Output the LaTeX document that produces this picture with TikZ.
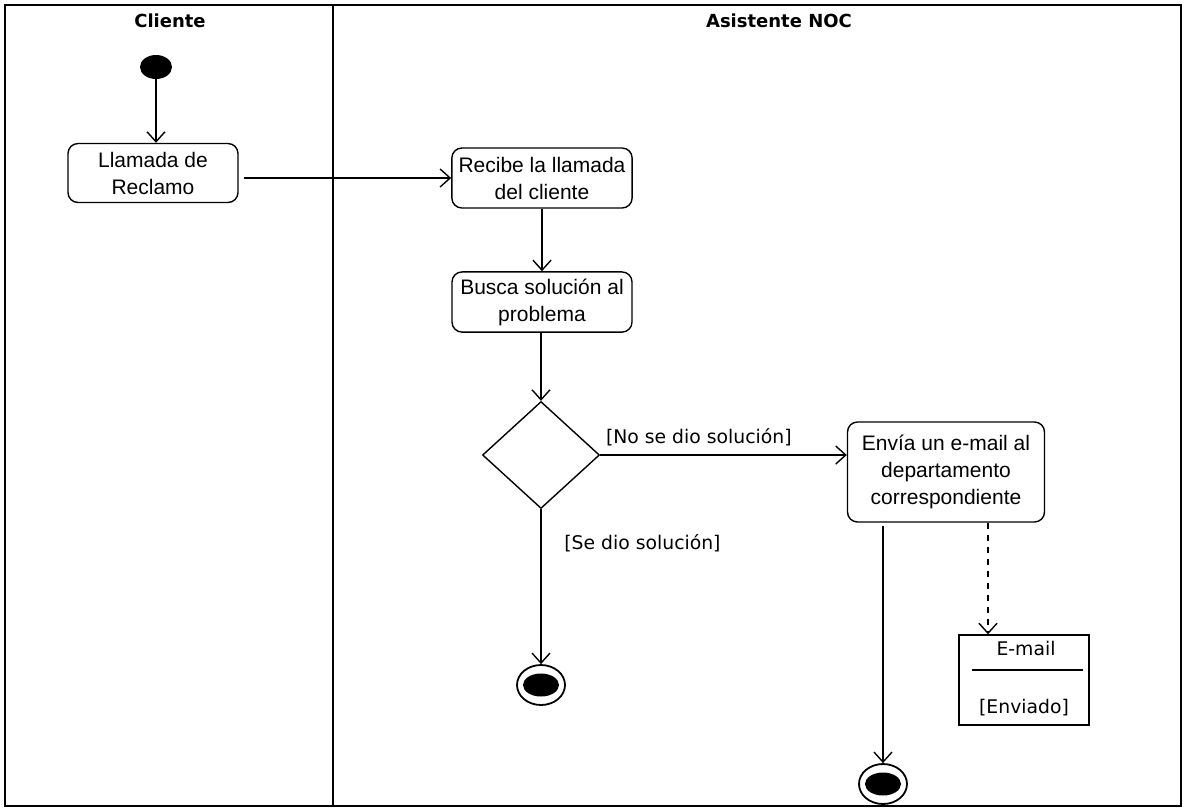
\documentclass[tikz,border=0pt]{standalone}
\usepackage{fontspec}
\setmainfont{Liberation Sans}
\newfontfamily\guardfont{DejaVu Sans}
\usetikzlibrary{
  arrows.meta,
  calc,
  positioning,
  shapes,
  shapes.geometric,
}
\tikzstyle{arrow} = [
  -{Straight Barb[length=5pt,width=9pt]},
  line width=0.7pt,
]
\tikzstyle{action} = [
  rectangle,
  rounded corners=5pt,
  draw,
  line width=0.7pt,
  align=center,
  font=\fontsize{10.5}{13.5}\selectfont,
]
\tikzstyle{guard} = [
  font=\guardfont\fontsize{9.4}{12}\selectfont,
]

\begin{document}
\begin{tikzpicture}[x=0.5pt,y=-0.5pt]

      \useasboundingbox (0,0) rectangle (1185,811);
      % swimlanes
      \draw[line width=1pt] (5,5) rectangle (1181,806);
      \draw[line width=1pt] (333,5) -- (333,806);
      \node[font=\guardfont\bfseries\fontsize{9}{11}\selectfont] (cliente) at (170,21) {Cliente};
      \node[font=\guardfont\bfseries\fontsize{9}{11}\selectfont] (noc) at (779,21) {Asistente NOC};

      \node[ellipse,fill=black,minimum width=16pt,minimum height=12pt,inner sep=0] (inicio) at (156,67) {};
      \node[action,minimum width=85pt,minimum height=29.5pt] (llamada) at (153,173) {Llamada de\\Reclamo};
      \node[action,minimum width=90pt,minimum height=30pt] (recibe) at (542,178) {Recibe la llamada\\del cliente};
      \node[action,minimum width=90pt,minimum height=30pt] (busca) at (542,302) {Busca soluci\'on al\\problema};
      \node[diamond,draw,line width=0.7pt,minimum width=58.5pt,minimum height=53.5pt,inner sep=0] (decision) at (541,455) {};
      \node[action,minimum width=98.5pt,minimum height=50pt] (envia) at (946,472) {Env\'ia un e-mail al\\departamento\\correspondiente};

      % objeto e-mail
      \node[rectangle,draw,line width=0.7pt,minimum width=65pt,minimum height=45pt] (email) at (1024,680) {};
      \node[guard] (emailnombre) at (1026,648) {E-mail};
      \node[guard] (emailestado) at (1024,708) {[Enviado]};
      \draw[line width=0.7pt] ($(email.west)+(7pt,5pt)$) -- ($(email.east)+(-3.5pt,5pt)$);

      \node[ellipse,draw,line width=0.9pt,minimum width=24pt,minimum height=20pt,inner sep=0] (fin1) at (541,685) {};
      \node[ellipse,fill=black,minimum width=18pt,minimum height=11.5pt,inner sep=0] at (fin1) {};
      \node[ellipse,draw,line width=0.9pt,minimum width=24pt,minimum height=20pt,inner sep=0] (fin2) at (883,784) {};
      \node[ellipse,fill=black,minimum width=18pt,minimum height=11.5pt,inner sep=0] at (fin2) {};

      \draw[arrow] (inicio.south) -- (inicio.south |- llamada.north);
      \draw[arrow,shorten <=2.5pt] (llamada.east |- recibe.west) -- (recibe.west);
      \draw[arrow] (recibe.south) -- (busca.north);
      \draw[arrow] (decision.north |- busca.south) -- (decision.north);
      \draw[arrow] (decision.east) -- node[guard,above,pos=0.4,yshift=1pt] {[No se dio soluci\'on]} (decision.east -| envia.west);
      \draw[arrow] (decision.south) -- node[guard,right,pos=0.22,xshift=8pt] {[Se dio soluci\'on]} (fin1.north);
      \draw[arrow,shorten <=1.5pt] (fin2 |- envia.south) -- (fin2.north);
      \draw[arrow,dashed] ([xshift=21pt]envia.south) -- ([xshift=21pt]envia.south |- email.north);
    \end{tikzpicture}
\end{document}
